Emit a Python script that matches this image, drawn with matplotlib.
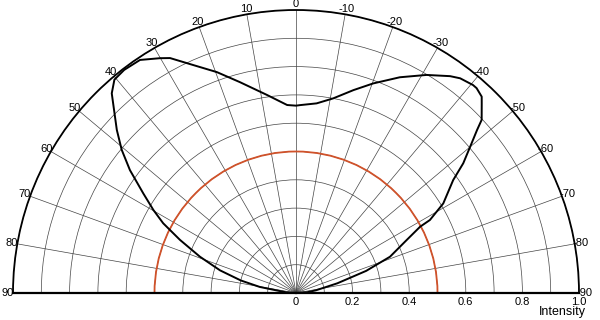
import numpy as np
import matplotlib
matplotlib.use('Agg')
import matplotlib.pyplot as plt

plt.rcParams['font.family'] = ['Liberation Sans', 'DejaVu Sans']

# measured intensity, angle in degrees (positive = left side)
theta_deg = [90, 86, 83, 80.5, 77.2, 73.4, 69.3, 65.4, 62.3, 59.8, 56.9,
             53.5, 50.6, 47.7, 45.8, 42.7, 40.4, 37.6, 33.8, 30.1, 28.2,
             24.3, 19.7, 14.9, 8.3, 2.7, 0, -1.2, -6.2, -10.8, -15.8,
             -20.2, -25.7, -30.9, -35.4, -37.4, -40.4, -41.4, -43.4, -44.4,
             -47, -48, -50, -52.2, -54.3, -58.7, -61.4, -61.9, -64.4,
             -68.9, -72.5, -76.8, -82.3, -86, -90]
intensity = [0.0, 0.035, 0.06, 0.13, 0.20, 0.28, 0.363, 0.451, 0.53, 0.583,
             0.644, 0.73, 0.797, 0.856, 0.892, 0.96, 0.99, 0.995, 0.991,
             0.959, 0.942, 0.884, 0.829, 0.771, 0.707, 0.665, 0.662, 0.664,
             0.674, 0.70, 0.745, 0.789, 0.846, 0.898, 0.94, 0.955, 0.965,
             0.965, 0.955, 0.938, 0.897, 0.861, 0.803, 0.748, 0.684, 0.609,
             0.539, 0.497, 0.434, 0.356, 0.26, 0.15, 0.071, 0.04, 0.0]

angle_ticks = list(range(-90, 91, 10))
r_grid = [0.1, 0.2, 0.3, 0.4, 0.5, 0.6, 0.7, 0.8, 0.9, 1.0]
r_labels = ['0', '0.2', '0.4', '0.6', '0.8', '1.0']
r_label_vals = [0, 0.2, 0.4, 0.6, 0.8, 1.0]
ref_level = 0.5

fig = plt.figure(figsize=(6, 3.2), dpi=100)
# half-disc wedge is centred in a square box, so give it a square box
ax = fig.add_axes([13/600, -114.5/320, 566/600, 566/320], projection='polar')
ax.set_theta_zero_location('N')
ax.set_theta_direction(1)
ax.set_thetamin(-90)
ax.set_thetamax(90)
ax.set_ylim(0, 1)

ax.set_thetagrids(angle_ticks, labels=[str(a) for a in angle_ticks])
ax.set_rgrids(r_grid, labels=[''] * len(r_grid))
ax.grid(True, color='#444444', lw=0.5)
ax.tick_params(axis='x', labelsize=8, length=0, pad=-3)

# red reference circle
ax.axhline(ref_level, color='#d0522a', lw=1.3, zorder=1.8)

ax.spines['polar'].set_linewidth(1.3)
ax.spines['start'].set_linewidth(1.6)
ax.spines['end'].set_linewidth(1.6)

ax.plot(np.deg2rad(theta_deg), intensity, color='black', lw=1.4)

for v, s in zip(r_label_vals, r_labels):
    ax.annotate(s, xy=(-np.pi/2, v), xytext=(0, -3),
                textcoords='offset points', ha='center', va='top', fontsize=8)

fig.text(586/600, 2/320, 'Intensity', ha='right', va='bottom', fontsize=9)

fig.savefig('out.png', dpi=100)
